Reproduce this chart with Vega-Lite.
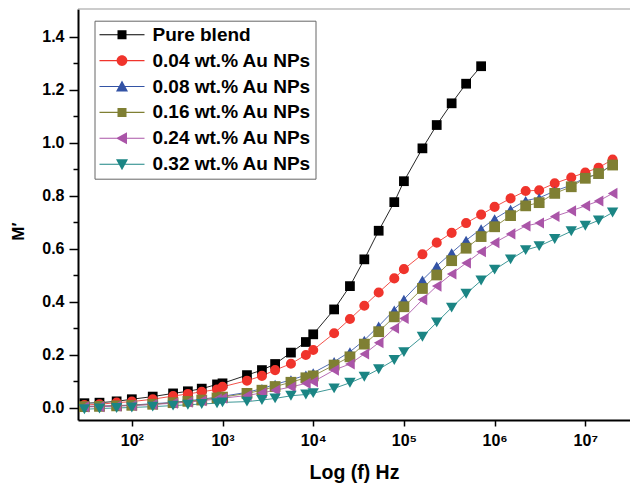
{
"$schema": "https://vega.github.io/schema/vega-lite/v6.json",
"width": 552, "height": 411,
"autosize": {"type": "none"},
"padding": {"left": 78, "top": 9, "right": 0, "bottom": 66},
"background": "white",
"config": {"view": {"stroke": null}, "font": "Liberation Sans"},
"datasets": {"pts": [
{"s":"Pure blend","f":30,"m":0.017},{"s":"Pure blend","f":44,"m":0.019},{"s":"Pure blend","f":68,"m":0.024},{"s":"Pure blend","f":100,"m":0.032},{"s":"Pure blend","f":170,"m":0.042},{"s":"Pure blend","f":285,"m":0.054},{"s":"Pure blend","f":415,"m":0.062},{"s":"Pure blend","f":590,"m":0.072},{"s":"Pure blend","f":870,"m":0.088},{"s":"Pure blend","f":1000,"m":0.092},{"s":"Pure blend","f":1860,"m":0.123},{"s":"Pure blend","f":2720,"m":0.142},{"s":"Pure blend","f":3800,"m":0.165},{"s":"Pure blend","f":5680,"m":0.208},{"s":"Pure blend","f":8300,"m":0.248},{"s":"Pure blend","f":10000,"m":0.277},{"s":"Pure blend","f":17000,"m":0.371},{"s":"Pure blend","f":25400,"m":0.459},{"s":"Pure blend","f":36600,"m":0.56},{"s":"Pure blend","f":52700,"m":0.668},{"s":"Pure blend","f":78300,"m":0.776},{"s":"Pure blend","f":100000,"m":0.855},{"s":"Pure blend","f":160000,"m":0.979},{"s":"Pure blend","f":230000,"m":1.067},{"s":"Pure blend","f":336000,"m":1.149},{"s":"Pure blend","f":485000,"m":1.223},{"s":"Pure blend","f":710000,"m":1.289},
{"s":"0.04 wt.% Au NPs","f":30,"m":0.01},{"s":"0.04 wt.% Au NPs","f":44,"m":0.013},{"s":"0.04 wt.% Au NPs","f":68,"m":0.019},{"s":"0.04 wt.% Au NPs","f":100,"m":0.023},{"s":"0.04 wt.% Au NPs","f":170,"m":0.032},{"s":"0.04 wt.% Au NPs","f":285,"m":0.044},{"s":"0.04 wt.% Au NPs","f":415,"m":0.052},{"s":"0.04 wt.% Au NPs","f":590,"m":0.06},{"s":"0.04 wt.% Au NPs","f":870,"m":0.069},{"s":"0.04 wt.% Au NPs","f":1000,"m":0.079},{"s":"0.04 wt.% Au NPs","f":1860,"m":0.102},{"s":"0.04 wt.% Au NPs","f":2720,"m":0.12},{"s":"0.04 wt.% Au NPs","f":3800,"m":0.142},{"s":"0.04 wt.% Au NPs","f":5680,"m":0.166},{"s":"0.04 wt.% Au NPs","f":8300,"m":0.199},{"s":"0.04 wt.% Au NPs","f":10000,"m":0.218},{"s":"0.04 wt.% Au NPs","f":17000,"m":0.281},{"s":"0.04 wt.% Au NPs","f":25400,"m":0.335},{"s":"0.04 wt.% Au NPs","f":36600,"m":0.385},{"s":"0.04 wt.% Au NPs","f":52700,"m":0.435},{"s":"0.04 wt.% Au NPs","f":78300,"m":0.488},{"s":"0.04 wt.% Au NPs","f":100000,"m":0.523},{"s":"0.04 wt.% Au NPs","f":160000,"m":0.579},{"s":"0.04 wt.% Au NPs","f":230000,"m":0.623},{"s":"0.04 wt.% Au NPs","f":336000,"m":0.66},{"s":"0.04 wt.% Au NPs","f":485000,"m":0.697},{"s":"0.04 wt.% Au NPs","f":710000,"m":0.729},{"s":"0.04 wt.% Au NPs","f":1000000,"m":0.758},{"s":"0.04 wt.% Au NPs","f":1500000,"m":0.79},{"s":"0.04 wt.% Au NPs","f":2200000,"m":0.818},{"s":"0.04 wt.% Au NPs","f":3100000,"m":0.821},{"s":"0.04 wt.% Au NPs","f":4600000,"m":0.847},{"s":"0.04 wt.% Au NPs","f":7000000,"m":0.869},{"s":"0.04 wt.% Au NPs","f":10000000,"m":0.888},{"s":"0.04 wt.% Au NPs","f":14000000,"m":0.906},{"s":"0.04 wt.% Au NPs","f":20000000,"m":0.937},
{"s":"0.08 wt.% Au NPs","f":30,"m":0.005},{"s":"0.08 wt.% Au NPs","f":44,"m":0.006},{"s":"0.08 wt.% Au NPs","f":68,"m":0.008},{"s":"0.08 wt.% Au NPs","f":100,"m":0.01},{"s":"0.08 wt.% Au NPs","f":170,"m":0.015},{"s":"0.08 wt.% Au NPs","f":285,"m":0.02},{"s":"0.08 wt.% Au NPs","f":415,"m":0.026},{"s":"0.08 wt.% Au NPs","f":590,"m":0.032},{"s":"0.08 wt.% Au NPs","f":870,"m":0.04},{"s":"0.08 wt.% Au NPs","f":1000,"m":0.043},{"s":"0.08 wt.% Au NPs","f":1860,"m":0.058},{"s":"0.08 wt.% Au NPs","f":2720,"m":0.072},{"s":"0.08 wt.% Au NPs","f":3800,"m":0.088},{"s":"0.08 wt.% Au NPs","f":5680,"m":0.105},{"s":"0.08 wt.% Au NPs","f":8300,"m":0.123},{"s":"0.08 wt.% Au NPs","f":10000,"m":0.132},{"s":"0.08 wt.% Au NPs","f":17000,"m":0.174},{"s":"0.08 wt.% Au NPs","f":25400,"m":0.211},{"s":"0.08 wt.% Au NPs","f":36600,"m":0.255},{"s":"0.08 wt.% Au NPs","f":52700,"m":0.308},{"s":"0.08 wt.% Au NPs","f":78300,"m":0.369},{"s":"0.08 wt.% Au NPs","f":100000,"m":0.409},{"s":"0.08 wt.% Au NPs","f":160000,"m":0.482},{"s":"0.08 wt.% Au NPs","f":230000,"m":0.535},{"s":"0.08 wt.% Au NPs","f":336000,"m":0.585},{"s":"0.08 wt.% Au NPs","f":485000,"m":0.632},{"s":"0.08 wt.% Au NPs","f":710000,"m":0.675},{"s":"0.08 wt.% Au NPs","f":1000000,"m":0.713},{"s":"0.08 wt.% Au NPs","f":1500000,"m":0.749},{"s":"0.08 wt.% Au NPs","f":2200000,"m":0.782},{"s":"0.08 wt.% Au NPs","f":3100000,"m":0.792},{"s":"0.08 wt.% Au NPs","f":4600000,"m":0.818},{"s":"0.08 wt.% Au NPs","f":7000000,"m":0.84},{"s":"0.08 wt.% Au NPs","f":10000000,"m":0.869},{"s":"0.08 wt.% Au NPs","f":14000000,"m":0.881},{"s":"0.08 wt.% Au NPs","f":20000000,"m":0.92},
{"s":"0.16 wt.% Au NPs","f":30,"m":0.004},{"s":"0.16 wt.% Au NPs","f":44,"m":0.005},{"s":"0.16 wt.% Au NPs","f":68,"m":0.007},{"s":"0.16 wt.% Au NPs","f":100,"m":0.009},{"s":"0.16 wt.% Au NPs","f":170,"m":0.013},{"s":"0.16 wt.% Au NPs","f":285,"m":0.019},{"s":"0.16 wt.% Au NPs","f":415,"m":0.024},{"s":"0.16 wt.% Au NPs","f":590,"m":0.029},{"s":"0.16 wt.% Au NPs","f":870,"m":0.037},{"s":"0.16 wt.% Au NPs","f":1000,"m":0.04},{"s":"0.16 wt.% Au NPs","f":1860,"m":0.054},{"s":"0.16 wt.% Au NPs","f":2720,"m":0.066},{"s":"0.16 wt.% Au NPs","f":3800,"m":0.08},{"s":"0.16 wt.% Au NPs","f":5680,"m":0.096},{"s":"0.16 wt.% Au NPs","f":8300,"m":0.113},{"s":"0.16 wt.% Au NPs","f":10000,"m":0.12},{"s":"0.16 wt.% Au NPs","f":17000,"m":0.161},{"s":"0.16 wt.% Au NPs","f":25400,"m":0.192},{"s":"0.16 wt.% Au NPs","f":36600,"m":0.24},{"s":"0.16 wt.% Au NPs","f":52700,"m":0.287},{"s":"0.16 wt.% Au NPs","f":78300,"m":0.343},{"s":"0.16 wt.% Au NPs","f":100000,"m":0.381},{"s":"0.16 wt.% Au NPs","f":160000,"m":0.45},{"s":"0.16 wt.% Au NPs","f":230000,"m":0.501},{"s":"0.16 wt.% Au NPs","f":336000,"m":0.555},{"s":"0.16 wt.% Au NPs","f":485000,"m":0.602},{"s":"0.16 wt.% Au NPs","f":710000,"m":0.646},{"s":"0.16 wt.% Au NPs","f":1000000,"m":0.683},{"s":"0.16 wt.% Au NPs","f":1500000,"m":0.725},{"s":"0.16 wt.% Au NPs","f":2200000,"m":0.762},{"s":"0.16 wt.% Au NPs","f":3100000,"m":0.774},{"s":"0.16 wt.% Au NPs","f":4600000,"m":0.809},{"s":"0.16 wt.% Au NPs","f":7000000,"m":0.834},{"s":"0.16 wt.% Au NPs","f":10000000,"m":0.866},{"s":"0.16 wt.% Au NPs","f":14000000,"m":0.884},{"s":"0.16 wt.% Au NPs","f":20000000,"m":0.916},
{"s":"0.24 wt.% Au NPs","f":30,"m":0.003},{"s":"0.24 wt.% Au NPs","f":44,"m":0.004},{"s":"0.24 wt.% Au NPs","f":68,"m":0.006},{"s":"0.24 wt.% Au NPs","f":100,"m":0.008},{"s":"0.24 wt.% Au NPs","f":170,"m":0.012},{"s":"0.24 wt.% Au NPs","f":285,"m":0.017},{"s":"0.24 wt.% Au NPs","f":415,"m":0.021},{"s":"0.24 wt.% Au NPs","f":590,"m":0.026},{"s":"0.24 wt.% Au NPs","f":870,"m":0.033},{"s":"0.24 wt.% Au NPs","f":1000,"m":0.036},{"s":"0.24 wt.% Au NPs","f":1860,"m":0.046},{"s":"0.24 wt.% Au NPs","f":2720,"m":0.056},{"s":"0.24 wt.% Au NPs","f":3800,"m":0.066},{"s":"0.24 wt.% Au NPs","f":5680,"m":0.078},{"s":"0.24 wt.% Au NPs","f":8300,"m":0.092},{"s":"0.24 wt.% Au NPs","f":10000,"m":0.098},{"s":"0.24 wt.% Au NPs","f":17000,"m":0.142},{"s":"0.24 wt.% Au NPs","f":25400,"m":0.165},{"s":"0.24 wt.% Au NPs","f":36600,"m":0.203},{"s":"0.24 wt.% Au NPs","f":52700,"m":0.245},{"s":"0.24 wt.% Au NPs","f":78300,"m":0.3},{"s":"0.24 wt.% Au NPs","f":100000,"m":0.337},{"s":"0.24 wt.% Au NPs","f":160000,"m":0.408},{"s":"0.24 wt.% Au NPs","f":230000,"m":0.459},{"s":"0.24 wt.% Au NPs","f":336000,"m":0.505},{"s":"0.24 wt.% Au NPs","f":485000,"m":0.546},{"s":"0.24 wt.% Au NPs","f":710000,"m":0.589},{"s":"0.24 wt.% Au NPs","f":1000000,"m":0.623},{"s":"0.24 wt.% Au NPs","f":1500000,"m":0.656},{"s":"0.24 wt.% Au NPs","f":2200000,"m":0.686},{"s":"0.24 wt.% Au NPs","f":3100000,"m":0.697},{"s":"0.24 wt.% Au NPs","f":4600000,"m":0.722},{"s":"0.24 wt.% Au NPs","f":7000000,"m":0.743},{"s":"0.24 wt.% Au NPs","f":10000000,"m":0.762},{"s":"0.24 wt.% Au NPs","f":14000000,"m":0.78},{"s":"0.24 wt.% Au NPs","f":20000000,"m":0.809},
{"s":"0.32 wt.% Au NPs","f":30,"m":-0.006},{"s":"0.32 wt.% Au NPs","f":44,"m":-0.003},{"s":"0.32 wt.% Au NPs","f":68,"m":-0.001},{"s":"0.32 wt.% Au NPs","f":100,"m":0.001},{"s":"0.32 wt.% Au NPs","f":170,"m":0.004},{"s":"0.32 wt.% Au NPs","f":285,"m":0.008},{"s":"0.32 wt.% Au NPs","f":415,"m":0.011},{"s":"0.32 wt.% Au NPs","f":590,"m":0.014},{"s":"0.32 wt.% Au NPs","f":870,"m":0.017},{"s":"0.32 wt.% Au NPs","f":1000,"m":0.02},{"s":"0.32 wt.% Au NPs","f":1860,"m":0.023},{"s":"0.32 wt.% Au NPs","f":2720,"m":0.029},{"s":"0.32 wt.% Au NPs","f":3800,"m":0.035},{"s":"0.32 wt.% Au NPs","f":5680,"m":0.045},{"s":"0.32 wt.% Au NPs","f":8300,"m":0.05},{"s":"0.32 wt.% Au NPs","f":10000,"m":0.055},{"s":"0.32 wt.% Au NPs","f":17000,"m":0.073},{"s":"0.32 wt.% Au NPs","f":25400,"m":0.094},{"s":"0.32 wt.% Au NPs","f":36600,"m":0.117},{"s":"0.32 wt.% Au NPs","f":52700,"m":0.145},{"s":"0.32 wt.% Au NPs","f":78300,"m":0.18},{"s":"0.32 wt.% Au NPs","f":100000,"m":0.21},{"s":"0.32 wt.% Au NPs","f":160000,"m":0.268},{"s":"0.32 wt.% Au NPs","f":230000,"m":0.322},{"s":"0.32 wt.% Au NPs","f":336000,"m":0.378},{"s":"0.32 wt.% Au NPs","f":485000,"m":0.43},{"s":"0.32 wt.% Au NPs","f":710000,"m":0.48},{"s":"0.32 wt.% Au NPs","f":1000000,"m":0.521},{"s":"0.32 wt.% Au NPs","f":1500000,"m":0.56},{"s":"0.32 wt.% Au NPs","f":2200000,"m":0.595},{"s":"0.32 wt.% Au NPs","f":3100000,"m":0.61},{"s":"0.32 wt.% Au NPs","f":4600000,"m":0.637},{"s":"0.32 wt.% Au NPs","f":7000000,"m":0.666},{"s":"0.32 wt.% Au NPs","f":10000000,"m":0.687},{"s":"0.32 wt.% Au NPs","f":14000000,"m":0.707},{"s":"0.32 wt.% Au NPs","f":20000000,"m":0.737}
], "frame": [{"top": 1.505}]},
"data": {"name": "pts"},
"encoding": {
  "x": {"field": "f", "type": "quantitative",
    "scale": {"type": "log", "domain": [25.5, 31100000], "nice": false},
    "axis": {"values": [100, 1000, 10000, 100000, 1000000, 10000000],
      "labelExpr": "'10' + ['⁰','¹','²','³','⁴','⁵','⁶','⁷'][round(log(datum.value)/LN10)]",
      "grid": false, "tickSize": 6, "tickWidth": 1.5, "tickColor": "black",
      "domainColor": "black", "domainWidth": 2,
      "labelFont": "Liberation Sans", "labelFontWeight": "bold", "labelFontSize": 16, "labelColor": "black",
      "labelPadding": 6, "labelOverlap": false, "labelFlush": false,
      "title": "Log (f) Hz", "titleFont": "Liberation Sans", "titleFontSize": 19.5, "titleFontWeight": "bold", "titleColor": "black", "titlePadding": 15}},
  "y": {"field": "m", "type": "quantitative",
    "scale": {"domain": [-0.0464, 1.505], "nice": false, "zero": false},
    "axis": {"values": [0, 0.1, 0.2, 0.3, 0.4, 0.5, 0.6, 0.7, 0.8, 0.9, 1.0, 1.1, 1.2, 1.3, 1.4],
      "labelExpr": "round(datum.value*10) % 2 == 0 ? format(datum.value, '.1f') : ''",
      "grid": false,
      "tickSize": {"condition": {"test": "round(datum.value*10) % 2 == 1", "value": 5}, "value": 9},
      "tickWidth": 1.5, "tickColor": "black",
      "domainColor": "black", "domainWidth": 2,
      "labelFont": "Liberation Sans", "labelFontWeight": "bold", "labelFontSize": 16, "labelColor": "black",
      "labelPadding": 5, "labelOverlap": false, "labelFlush": false,
      "title": "M′", "titleFont": "Liberation Sans", "titleFontSize": 17, "titleFontWeight": "bold", "titleColor": "black",
      "titleX": -60, "titleY": 222, "titleAngle": -90, "titleAlign": "center", "titleBaseline": "middle"}}
},
"layer": [
  {"data": {"name": "frame"}, "mark": {"type": "rule", "color": "#999999", "strokeWidth": 1},
   "encoding": {"x": null, "y": {"field": "top", "type": "quantitative"}}},
  {"mark": {"type": "line", "strokeWidth": 1, "opacity": 0.85},
   "encoding": {"color": {"field": "s", "type": "nominal",
     "scale": {"domain": ["Pure blend", "0.04 wt.% Au NPs", "0.08 wt.% Au NPs", "0.16 wt.% Au NPs", "0.24 wt.% Au NPs", "0.32 wt.% Au NPs"],
       "range": ["#000000", "#f0342c", "#3353a5", "#7f7f33", "#aa55a8", "#1b8584"]}, "legend": null}}},
  {"mark": {"type": "point", "filled": true, "opacity": 1},
   "encoding": {
     "color": {"field": "s", "type": "nominal",
       "scale": {"domain": ["Pure blend", "0.04 wt.% Au NPs", "0.08 wt.% Au NPs", "0.16 wt.% Au NPs", "0.24 wt.% Au NPs", "0.32 wt.% Au NPs"],
         "range": ["#000000", "#f0342c", "#3353a5", "#7f7f33", "#aa55a8", "#1b8584"]}, "legend": null},
     "shape": {"field": "s", "type": "nominal",
       "scale": {"domain": ["Pure blend", "0.04 wt.% Au NPs", "0.08 wt.% Au NPs", "0.16 wt.% Au NPs", "0.24 wt.% Au NPs", "0.32 wt.% Au NPs"],
         "range": ["square", "circle", "triangle-up", "square", "triangle-left", "triangle-down"]}, "legend": null},
     "size": {"field": "s", "type": "nominal",
       "scale": {"domain": ["Pure blend", "0.04 wt.% Au NPs", "0.08 wt.% Au NPs", "0.16 wt.% Au NPs", "0.24 wt.% Au NPs", "0.32 wt.% Au NPs"],
         "range": [95, 130, 150, 95, 150, 150]}, "legend": null}}},
  {"mark": {"type": "point", "filled": true, "opacity": 0},
   "encoding": {
     "color": {"field": "s", "type": "nominal",
       "scale": {"domain": ["Pure blend", "0.04 wt.% Au NPs", "0.08 wt.% Au NPs", "0.16 wt.% Au NPs", "0.24 wt.% Au NPs", "0.32 wt.% Au NPs"],
         "range": ["#000000", "#f0342c", "#3353a5", "#7f7f33", "#aa55a8", "#1b8584"]},
       "legend": {"title": null, "orient": "none", "legendX": 16.5, "legendY": 11.7, "padding": 4.5,
         "strokeColor": "#666666", "fillColor": "white", "symbolSize": 100, "symbolStrokeWidth": 0, "symbolOpacity": 1,
         "labelFont": "Liberation Sans", "labelFontSize": 19, "labelFontWeight": "bold", "labelColor": "black",
         "labelOffset": 34.5, "rowPadding": 5.9, "labelLimit": 400,
         "labelExpr": "datum.label == 'Pure blend' ? '\u00a0Pure blend' : datum.label"}},
     "shape": {"field": "s", "type": "nominal",
       "scale": {"domain": ["Pure blend", "0.04 wt.% Au NPs", "0.08 wt.% Au NPs", "0.16 wt.% Au NPs", "0.24 wt.% Au NPs", "0.32 wt.% Au NPs"],
         "range": [
           "M-1.8,-0.11H7.2V0.11H-1.8ZM1.8,-0.9H3.6V0.9H1.8Z",
           "M-1.8,-0.11H7.2V0.11H-1.8ZM3.78,0A1.08,1.08,0,1,1,1.62,0A1.08,1.08,0,1,1,3.78,0Z",
           "M-1.8,-0.11H7.2V0.11H-1.8ZM2.7,-1.2L3.9,1H1.5Z",
           "M-1.8,-0.11H7.2V0.11H-1.8ZM1.8,-0.9H3.6V0.9H1.8Z",
           "M-1.8,-0.11H7.2V0.11H-1.8ZM1.5,0L3.7,-1.2V1.2Z",
           "M-1.8,-0.11H7.2V0.11H-1.8ZM1.5,-1H3.9L2.7,1.2Z"]},
       "legend": {"title": null, "orient": "none", "legendX": 16.5, "legendY": 11.7, "padding": 4.5,
         "strokeColor": "#666666", "fillColor": "white", "symbolSize": 100, "symbolStrokeWidth": 0, "symbolOpacity": 1,
         "labelFont": "Liberation Sans", "labelFontSize": 19, "labelFontWeight": "bold", "labelColor": "black",
         "labelOffset": 34.5, "rowPadding": 5.9, "labelLimit": 400,
         "labelExpr": "datum.label == 'Pure blend' ? '\u00a0Pure blend' : datum.label"}}}}
],
"resolve": {"scale": {"color": "independent", "shape": "independent"}}
}
